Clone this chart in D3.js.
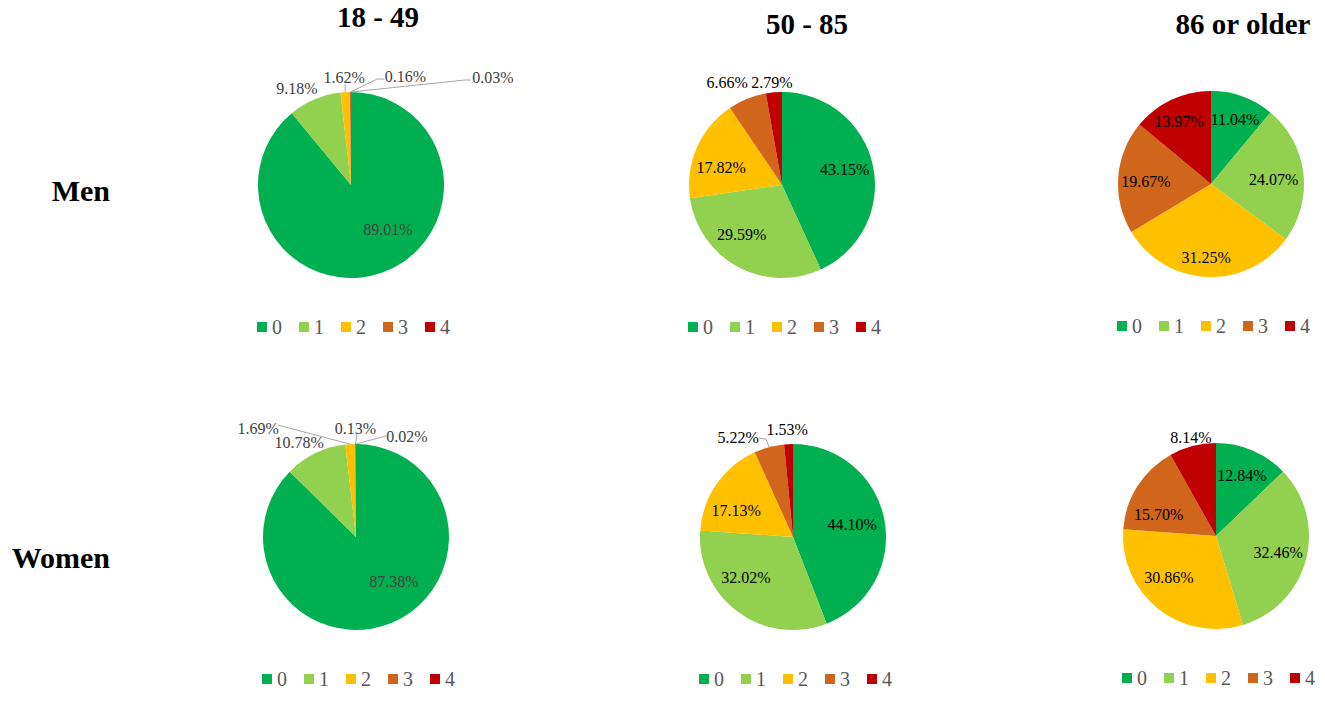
<!DOCTYPE html>
<html>
<head>
<meta charset="utf-8">
<script src="https://cdn.jsdelivr.net/npm/d3@7"></script>
<style>
  body { margin: 0; background: #fff; }
  svg { display: block; }
  svg text { font-family: "Liberation Serif", "Times New Roman", serif; }
</style>
</head>
<body>
<div id="chart"></div>
<script>
// categories and values
const categories = ["0", "1", "2", "3", "4"];
const ageGroups = ["18 - 49", "50 - 85", "86 or older"];
const sexes = ["Men", "Women"];

const men18to49 = [89.01, 9.18, 1.62, 0.16, 0.03];
const men50to85 = [43.15, 29.59, 17.82, 6.66, 2.79];
const men86plus = [11.04, 24.07, 31.25, 19.67, 13.97];
const women18to49 = [87.38, 10.78, 1.69, 0.13, 0.02];
const women50to85 = [44.10, 32.02, 17.13, 5.22, 1.53];
const women86plus = [12.84, 32.46, 30.86, 15.70, 8.14];

const seriesBySex = [
    [men18to49, men50to85, men86plus],
    [women18to49, women50to85, women86plus]
];

// layout
const width = 1325, height = 702;
const radius = 93;
const pieCenters = [
    [[351, 185], [782, 185], [1211, 184]],
    [[356, 537], [793, 537], [1216, 536]]
];
const titlePos = [[378, 27], [807, 34], [1243, 34]];
const rowLabelPos = [[110, 201], [110, 568]];

// label placement, Excel style: inside labels are nudged from the centroid,
// outside labels are offset from the slice's outer edge midpoint
const labelLayout = [
    [
        [{ nx: 15.6, ny: -15.5 }, { out: [-17.6, -11.4] }, { out: [-1, -15], lead: [[1, 7]] },
         { out: [55, -16], lead: [[-21, 3], [-28, 3]] }, { out: [142, -15], lead: [[-22, 3], [-28, 3]] }],
        [{ nx: 1, ny: -2.5 }, { nx: -10, ny: -6.5 }, { nx: -3, ny: 7.6 }, { out: [-20, -16] }, { out: [-2, -10] }],
        [{ nx: 2.5, ny: -5.6 }, { nx: 0, ny: 2.6 }, { nx: -2, ny: 10 }, { nx: -2, ny: 2 }, { nx: -5, ny: -5 }]
    ],
    [
        [{ nx: 13.6, ny: -14.3 }, { out: [-16, -11.4] }, { out: [-92, -16], lead: [[20, -3]] },
         { out: [0, -16], lead: [[1.5, 6]] }, { out: [51, -8], lead: [[-21, 0]] }],
        [{ nx: -3, ny: -1.4 }, { nx: -9.5, ny: -11 }, { nx: -5, ny: 10 },
         { out: [-31, -10], lead: [[21, 1], [28, 2]] }, { out: [-1.5, -15] }],
        [{ nx: 1, ny: -2 }, { nx: 1, ny: 0 }, { nx: -7.5, ny: -8.4 }, { nx: -4, ny: 12 }, { out: [-1.5, -9] }]
    ]
];

const color = d3.scaleOrdinal()
    .domain(categories)
    .range(["#00b050", "#92d050", "#ffc000", "#d0651c", "#c00000"]);

const svg = d3.select("#chart").append("svg")
    .attr("width", width)
    .attr("height", height);

const pie = d3.pie().sort(null).value(d => d.value);
const arc = d3.arc().innerRadius(0).outerRadius(radius);
const labelArc = d3.arc().innerRadius(radius * 0.68).outerRadius(radius * 0.68);

// column titles
svg.selectAll(".title")
    .data(ageGroups)
    .enter().append("text")
    .attr("class", "title")
    .attr("x", (d, i) => titlePos[i][0])
    .attr("y", (d, i) => titlePos[i][1])
    .attr("text-anchor", "middle")
    .attr("font-weight", "bold")
    .attr("font-size", 29)
    .attr("fill", "#000")
    .text(d => d);

// row labels
svg.selectAll(".rowlabel")
    .data(sexes)
    .enter().append("text")
    .attr("class", "rowlabel")
    .attr("x", (d, i) => rowLabelPos[i][0])
    .attr("y", (d, i) => rowLabelPos[i][1])
    .attr("text-anchor", "end")
    .attr("font-weight", "bold")
    .attr("font-size", 30)
    .attr("fill", "#000")
    .text(d => d);

seriesBySex.forEach((row, r) => {
    row.forEach((values, c) => {
        const [cx, cy] = pieCenters[r][c];
        const data = values.map((v, i) => ({ cat: categories[i], value: v }));
        const arcs = pie(data);
        const labelColor = c === 0 ? "#404040" : "#000";

        const g = svg.append("g").attr("transform", `translate(${cx},${cy})`);

        g.selectAll("path")
            .data(arcs)
            .enter().append("path")
            .attr("d", arc)
            .attr("fill", d => color(d.data.cat));

        // data labels
        arcs.forEach((a, i) => {
            const lay = labelLayout[r][c][i];
            let x, y;
            if (lay.out) {
                const mid = (a.startAngle + a.endAngle) / 2;
                const ex = Math.sin(mid) * radius, ey = -Math.cos(mid) * radius;
                x = ex + lay.out[0];
                y = ey + lay.out[1];
                if (lay.lead) {
                    const pts = lay.lead.map(p => [x + p[0], y + p[1]]);
                    pts.push([ex, ey]);
                    g.append("path")
                        .attr("d", d3.line()(pts))
                        .attr("fill", "none")
                        .attr("stroke", "#a6a6a6")
                        .attr("stroke-width", 1);
                }
            } else {
                const p = labelArc.centroid(a);
                x = p[0] + lay.nx;
                y = p[1] + lay.ny;
            }
            g.append("text")
                .attr("x", x)
                .attr("y", y)
                .attr("dy", "0.35em")
                .attr("text-anchor", "middle")
                .attr("font-size", 16)
                .attr("fill", labelColor)
                .text(a.data.value.toFixed(2) + "%");
        });

        // legend under each pie
        const legend = svg.append("g")
            .attr("transform", `translate(${cx - 94},${cy + 142})`);
        const item = legend.selectAll("g")
            .data(categories)
            .enter().append("g")
            .attr("transform", (d, i) => `translate(${i * 42},0)`);
        item.append("rect")
            .attr("x", 0)
            .attr("y", -5)
            .attr("width", 10)
            .attr("height", 10)
            .attr("fill", d => color(d));
        item.append("text")
            .attr("x", 15)
            .attr("y", 0)
            .attr("dy", "0.35em")
            .attr("font-size", 20)
            .attr("fill", "#595959")
            .text(d => d);
    });
});
</script>
</body>
</html>
